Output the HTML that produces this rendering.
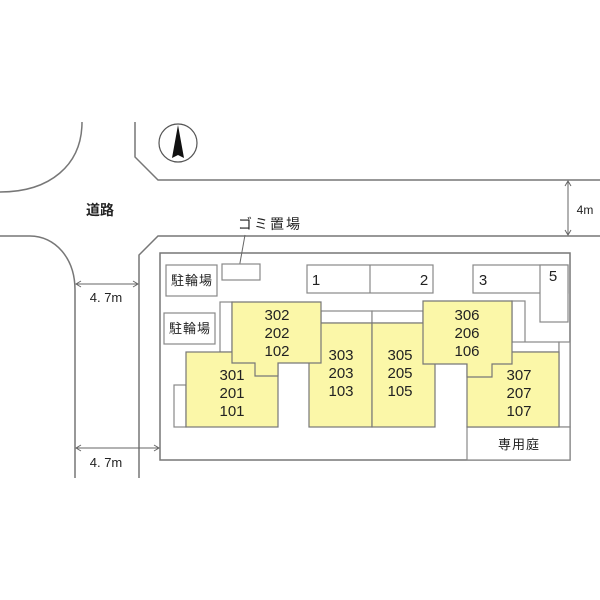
<!DOCTYPE html>
<html><head><meta charset="utf-8"><style>
html,body{margin:0;padding:0;background:#fff;}
svg{display:block}
text{font-family:"Liberation Sans","Noto Sans CJK JP",sans-serif;fill:#222}
</style></head><body>
<svg width="600" height="600" viewBox="0 0 600 600" xmlns="http://www.w3.org/2000/svg">
<g fill="none" stroke="#777" stroke-width="1.5">
<path d="M82,122 C82,165 50,192 0,192"/>
<path d="M0,236 L30,236 C55,236 75,258 75,290 L75,478"/>
<path d="M135,122 L135,157 L158,180 L600,180"/>
<path d="M600,236 L158,236 L139,255 L139,478"/>
<rect x="160" y="253" width="410" height="207"/>
</g>
<circle cx="178" cy="143" r="19" fill="none" stroke="#555" stroke-width="1.2"/>
<path d="M178,125 L172,158 L178,155 L184,158 Z" fill="#111"/>
<g stroke="#666" stroke-width="1" fill="none">
<line x1="568" y1="181" x2="568" y2="235"/>
<path d="M565,186 L568,181 L571,186 M565,230 L568,235 L571,230"/>
<line x1="76" y1="284" x2="138" y2="284"/>
<path d="M81,281 L76,284 L81,287 M133,281 L138,284 L133,287"/>
<line x1="76" y1="448" x2="159" y2="448"/>
<path d="M81,445 L76,448 L81,451 M154,445 L159,448 L154,451"/>
<line x1="245" y1="235" x2="238" y2="274"/>
</g>
<text x="585" y="214" font-size="12" text-anchor="middle">4m</text>
<text x="100" y="215" font-size="14" text-anchor="middle" font-weight="bold">道路</text>
<text x="106" y="302" font-size="13" text-anchor="middle">4. 7m</text>
<text x="106" y="467" font-size="13" text-anchor="middle">4. 7m</text>
<text x="270" y="229" font-size="14" text-anchor="middle" letter-spacing="2">ゴミ置場</text>
<g fill="#fff" stroke="#888" stroke-width="1.2">
<rect x="166" y="265" width="51" height="31"/>
<rect x="222" y="264" width="38" height="16"/>
<rect x="164" y="313" width="51" height="31"/>
<rect x="307" y="265" width="126" height="28"/>
<line x1="370" y1="265" x2="370" y2="293"/>
<rect x="473" y="265" width="95" height="28"/>
<rect x="540" y="265" width="28" height="57"/>
<rect x="174" y="385" width="12" height="42"/>
<rect x="220" y="302" width="12" height="50"/>
<rect x="321" y="311" width="51" height="12"/>
<rect x="372" y="311" width="51" height="12"/>
<rect x="512" y="301" width="13" height="51"/>
<rect x="492" y="342" width="67" height="10"/>
<rect x="559" y="342" width="11" height="85"/>
<rect x="467" y="427" width="103" height="33"/>
</g>
<g fill="#fbf7a8" stroke="#777" stroke-width="1.2">
<rect x="186" y="352" width="92" height="75"/>
<rect x="309" y="323" width="63" height="104"/>
<rect x="372" y="323" width="63" height="104"/>
<rect x="467" y="352" width="92" height="75"/>
<path d="M232,302 L321,302 L321,363 L278,363 L278,376 L255,376 L255,363 L232,363 Z"/>
<path d="M423,301 L512,301 L512,364 L492,364 L492,377 L467,377 L467,364 L423,364 Z"/>
</g>
<g font-size="15" text-anchor="middle">
<text x="192" y="285" font-size="13" letter-spacing="1">駐輪場</text>
<text x="190" y="333" font-size="13" letter-spacing="1">駐輪場</text>
<text x="316" y="285">1</text><text x="424" y="285">2</text>
<text x="483" y="285">3</text><text x="553" y="281">5</text>
<text x="277" y="320">302</text><text x="277" y="338">202</text><text x="277" y="356">102</text>
<text x="232" y="380">301</text><text x="232" y="398">201</text><text x="232" y="416">101</text>
<text x="341" y="360">303</text><text x="341" y="378">203</text><text x="341" y="396">103</text>
<text x="400" y="360">305</text><text x="400" y="378">205</text><text x="400" y="396">105</text>
<text x="467" y="320">306</text><text x="467" y="338">206</text><text x="467" y="356">106</text>
<text x="519" y="380">307</text><text x="519" y="398">207</text><text x="519" y="416">107</text>
<text x="519" y="449" font-size="13" letter-spacing="1">専用庭</text>
</g>
</svg>
</body></html>
